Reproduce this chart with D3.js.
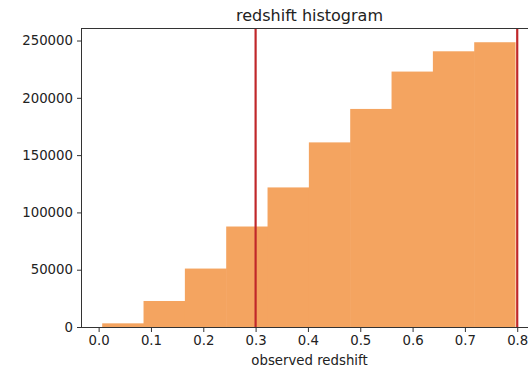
<!DOCTYPE html>
<html>
<head>
<meta charset="utf-8">
<script src="https://cdn.jsdelivr.net/npm/d3@7"></script>
<style>
  html, body { margin: 0; padding: 0; background: #fff; }
  svg { display: block; font-family: "DejaVu Sans", sans-serif; }
</style>
</head>
<body>
<svg id="chart" width="528" height="371"></svg>
<script>
// Histogram bin edges (observed redshift) and counts per bin
const binEdges = [0.0068, 0.0858, 0.1648, 0.2438, 0.3228, 0.4018, 0.4808, 0.5598, 0.6388, 0.7178, 0.7968];
const binCounts = [3200, 22700, 51000, 87700, 121800, 161100, 190300, 222900, 240600, 248500];
// Redshift cut markers
const cutLines = [0.3, 0.8];
const xTicks = [0.0, 0.1, 0.2, 0.3, 0.4, 0.5, 0.6, 0.7, 0.8];
const yTicks = [0, 50000, 100000, 150000, 200000, 250000];

const svg = d3.select("#chart");
const margin = { left: 81, top: 28, right: 538, bottom: 327 };

const x = d3.scaleLinear().domain([-0.0337, 0.8397]).range([margin.left, margin.right]);
const y = d3.scaleLinear().domain([0, 260925]).range([margin.bottom, margin.top]);

const bins = binCounts.map((c, i) => ({ x0: binEdges[i], x1: binEdges[i + 1], count: c }));

// Bars (slightly widened so neighbouring bins meet without seams)
svg.append("g").selectAll("rect").data(bins).join("rect")
  .attr("x", d => x(d.x0))
  .attr("y", d => y(d.count))
  .attr("width", (d, i) => x(d.x1) - x(d.x0) + (i < bins.length - 1 ? 0.6 : 0))
  .attr("height", d => y(0) - y(d.count))
  .attr("fill", "#f4a460");

// Vertical cut lines
svg.append("g").selectAll("line").data(cutLines).join("line")
  .attr("x1", d => x(d)).attr("x2", d => x(d))
  .attr("y1", margin.top).attr("y2", margin.bottom)
  .attr("stroke", "#c0282a")
  .attr("stroke-width", 2.2);

// Frame
const frame = svg.append("g").attr("fill", "none").attr("stroke", "#333").attr("stroke-width", 1);
frame.append("line").attr("x1", margin.left).attr("x2", margin.right).attr("y1", margin.top + 0.5).attr("y2", margin.top + 0.5);
frame.append("line").attr("x1", margin.left).attr("x2", margin.right).attr("y1", margin.bottom + 0.5).attr("y2", margin.bottom + 0.5);
frame.append("line").attr("x1", margin.left + 0.5).attr("x2", margin.left + 0.5).attr("y1", margin.top).attr("y2", margin.bottom + 1);
frame.append("line").attr("x1", margin.right + 0.5).attr("x2", margin.right + 0.5).attr("y1", margin.top).attr("y2", margin.bottom + 1);

// Axes
const xAxis = d3.axisBottom(x).tickValues(xTicks).tickFormat(d3.format(".1f")).tickSize(4.5).tickPadding(4);
const yAxis = d3.axisLeft(y).tickValues(yTicks).tickFormat(d3.format("d")).tickSize(4.5).tickPadding(4);

const gx = svg.append("g").attr("transform", `translate(0,${margin.bottom + 0.5})`).call(xAxis);
const gy = svg.append("g").attr("transform", `translate(${margin.left + 0.5},0)`).call(yAxis);
[gx, gy].forEach(g => {
  g.select(".domain").remove();
  g.selectAll(".tick line").attr("stroke", "#333");
  g.selectAll(".tick text").attr("fill", "#222").style("font-size", "13.3px").style("font-family", "DejaVu Sans, sans-serif");
});

// Title and axis label
svg.append("text")
  .attr("x", (margin.left + margin.right) / 2)
  .attr("y", 21)
  .attr("text-anchor", "middle")
  .attr("fill", "#222")
  .style("font-size", "16px")
  .text("redshift histogram");

svg.append("text")
  .attr("x", (margin.left + margin.right) / 2)
  .attr("y", 365)
  .attr("text-anchor", "middle")
  .attr("fill", "#222")
  .style("font-size", "13.3px")
  .text("observed redshift");
</script>
</body>
</html>
